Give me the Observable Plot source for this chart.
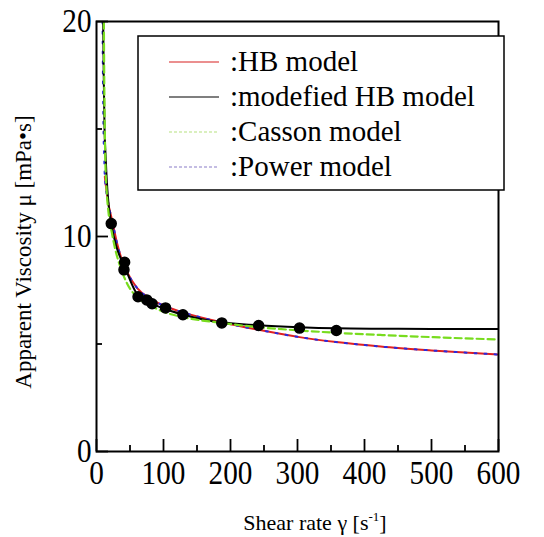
<!DOCTYPE html>
<html>
<head>
<meta charset="utf-8">
<script src="https://cdn.jsdelivr.net/npm/d3@7"></script>
<script src="https://cdn.jsdelivr.net/npm/@observablehq/plot@0.6"></script>
<style>
  html, body { margin: 0; padding: 0; background: white; }
  #chart { width: 544px; height: 537px; }
</style>
</head>
<body>
<div id="chart"></div>
<script>
// Measured data points
const shearRate = [22, 41, 42, 62, 75, 83, 103, 129, 187, 242, 303, 358];
const viscosity = [10.6, 8.45, 8.8, 7.2, 7.05, 6.87, 6.68, 6.36, 5.98, 5.86, 5.74, 5.63];

// HB model (red)
const hbX = [12.4, 16.9, 23.4, 30.9, 38.3, 45.8, 60.7, 80.6, 105.5, 129, 186.6, 242, 303, 358, 424, 500, 600];
const hbY = [12.78, 11.67, 10.74, 9.66, 8.88, 8.34, 7.6, 7.1, 6.72, 6.47, 6.01, 5.66, 5.32, 5.09, 4.88, 4.70, 4.51];

// Modified HB model (black)
const mhbX = [10, 10.8, 12, 13.5, 15, 18, 22, 30, 42, 60, 80, 100, 130, 175, 200, 242, 303, 358, 424, 500, 600];
const mhbY = [20, 17.5, 15, 13.8, 12.8, 11.5, 10.6, 9.5, 8.6, 7.35, 6.92, 6.65, 6.36, 6.05, 5.97, 5.87, 5.78, 5.73, 5.71, 5.70, 5.70];

// Casson model (green dashed)
const cassonX = [11, 11.5, 12.2, 13.2, 15, 18, 23.4, 28.4, 35.8, 45.8, 60.7, 80.6, 100, 129, 186.6, 242, 303, 358, 424, 500, 600];
const cassonY = [20, 17.5, 15.5, 13.5, 12.2, 11.1, 10.1, 9.35, 8.57, 7.8, 7.18, 6.79, 6.5, 6.25, 5.98, 5.78, 5.63, 5.52, 5.42, 5.32, 5.21];

// Power model (blue dotted)
const powerX = [9, 9.6, 10.4, 11.4, 12.4, 16.9, 23.4, 30.9, 38.3, 45.8, 60.7, 80.6, 105.5, 129, 186.6, 242, 303, 358, 424, 500, 600];
const powerY = [20, 17.5, 15, 13.8, 12.8, 11.67, 10.74, 9.66, 8.88, 8.34, 7.6, 7.1, 6.72, 6.47, 6.01, 5.66, 5.32, 5.09, 4.88, 4.70, 4.51];

// Ticks
const xMajorTicks = [0, 100, 200, 300, 400, 500, 600];
const xMinorTicks = [50, 150, 250, 350, 450, 550];
const yMajorTicks = [0, 10, 20];
const yMinorTicks = [5, 15];

// Legend
const legendLabels = [":HB model", ":modefied HB model", ":Casson model", ":Power model"];
const legendColors = ["#d82020", "#000000", "#b5e27e", "#8a7cc8"];
const legendDash = [null, null, "3,2", "3,2"];

const toRows = (xs, ys) => xs.map((x, i) => ({x, y: ys[i]}));
const points = toRows(shearRate, viscosity);
const hb = toRows(hbX, hbY);
const mhb = toRows(mhbX, mhbY);
const casson = toRows(cassonX, cassonY);
const power = toRows(powerX, powerY);

const serif = "'Liberation Serif', 'Times New Roman', serif";

const W = 544, H = 537, ML = 96, MR = 46, MT = 21, MB = 86;
const frameW = W - ML - MR, frameH = H - MT - MB;
const majorLen = 12, minorLen = 6;

const chart = Plot.plot({
  width: W,
  height: H,
  marginLeft: ML,
  marginRight: MR,
  marginTop: MT,
  marginBottom: MB,
  style: {fontFamily: serif, background: "white"},
  x: {domain: [0, 600], axis: null},
  y: {domain: [0, 20], axis: null},
  marks: [
    Plot.line(hb, {x: "x", y: "y", stroke: "#e02020", strokeWidth: 2, curve: "monotone-x", clip: true}),
    Plot.line(power, {x: "x", y: "y", stroke: "#2a2ae0", strokeWidth: 2, strokeDasharray: "2,8", curve: "monotone-x", clip: true}),
    Plot.line(mhb, {x: "x", y: "y", stroke: "black", strokeWidth: 2, curve: "monotone-x", clip: true}),
    Plot.line(casson, {x: "x", y: "y", stroke: "#78dc1e", strokeWidth: 2.2, strokeDasharray: "7,4", curve: "monotone-x", clip: true}),
    Plot.dot(points, {x: "x", y: "y", r: 5, fill: "black", stroke: "black"}),
    // inward ticks (rules shortened with insets)
    Plot.ruleX(xMajorTicks, {x: d => d, insetTop: frameH - majorLen, stroke: "black", strokeWidth: 1.8}),
    Plot.ruleX(xMinorTicks, {x: d => d, insetTop: frameH - minorLen, stroke: "black", strokeWidth: 1.8}),
    Plot.ruleY(yMajorTicks, {y: d => d, insetRight: frameW - majorLen, stroke: "black", strokeWidth: 1.8}),
    Plot.ruleY(yMinorTicks, {y: d => d, insetRight: frameW - minorLen, stroke: "black", strokeWidth: 1.8}),
    Plot.axisX(xMajorTicks, {tickSize: 0, tickPadding: 8, fontSize: 34, label: null, tickFormat: d => String(d)}),
    Plot.axisY(yMajorTicks, {tickSize: 0, tickPadding: 5, fontSize: 34, label: null, tickFormat: d => String(d)}),
    Plot.frame({stroke: "black", strokeWidth: 2})
  ]
});

document.getElementById("chart").appendChild(chart);

const svg = d3.select(chart);

// squeeze tick labels horizontally
svg.selectAll('g[aria-label="x-axis tick label"] text, g[aria-label="y-axis tick label"] text')
  .each(function() {
    const t = d3.select(this);
    const tr = t.attr("transform") || "";
    t.attr("transform", tr + " scale(0.86,1)");
  });

// axis titles
svg.append("text")
  .attr("transform", "translate(23,252) rotate(-90)")
  .attr("text-anchor", "middle")
  .attr("dominant-baseline", "central")
  .attr("font-family", serif)
  .attr("font-size", 23)
  .attr("fill", "black")
  .text("Apparent Viscosity \u03bc [mPa\u2022s]");

const xt = svg.append("text")
  .attr("x", 315)
  .attr("y", 530)
  .attr("text-anchor", "middle")
  .attr("font-family", serif)
  .attr("font-size", 22)
  .attr("fill", "black");
xt.append("tspan").text("Shear rate \u03b3 [s");
xt.append("tspan").attr("font-size", 13).attr("dy", -9).text("-1");
xt.append("tspan").attr("dy", 9).text("]");

// legend
const lg = svg.append("g").attr("aria-label", "legend");
lg.append("rect")
  .attr("x", 138).attr("y", 36).attr("width", 366).attr("height", 154)
  .attr("fill", "white").attr("stroke", "black").attr("stroke-width", 1.5);
legendLabels.forEach((label, i) => {
  const yy = 62 + i * 35;
  lg.append("line")
    .attr("x1", 169).attr("x2", 219).attr("y1", yy).attr("y2", yy)
    .attr("stroke", legendColors[i]).attr("stroke-width", 1.2)
    .attr("stroke-dasharray", legendDash[i]);
  lg.append("text")
    .attr("x", 230).attr("y", yy + 9)
    .attr("text-anchor", "start")
    .attr("font-family", serif).attr("font-size", 29).attr("fill", "black")
    .text(label);
});
</script>
</body>
</html>
